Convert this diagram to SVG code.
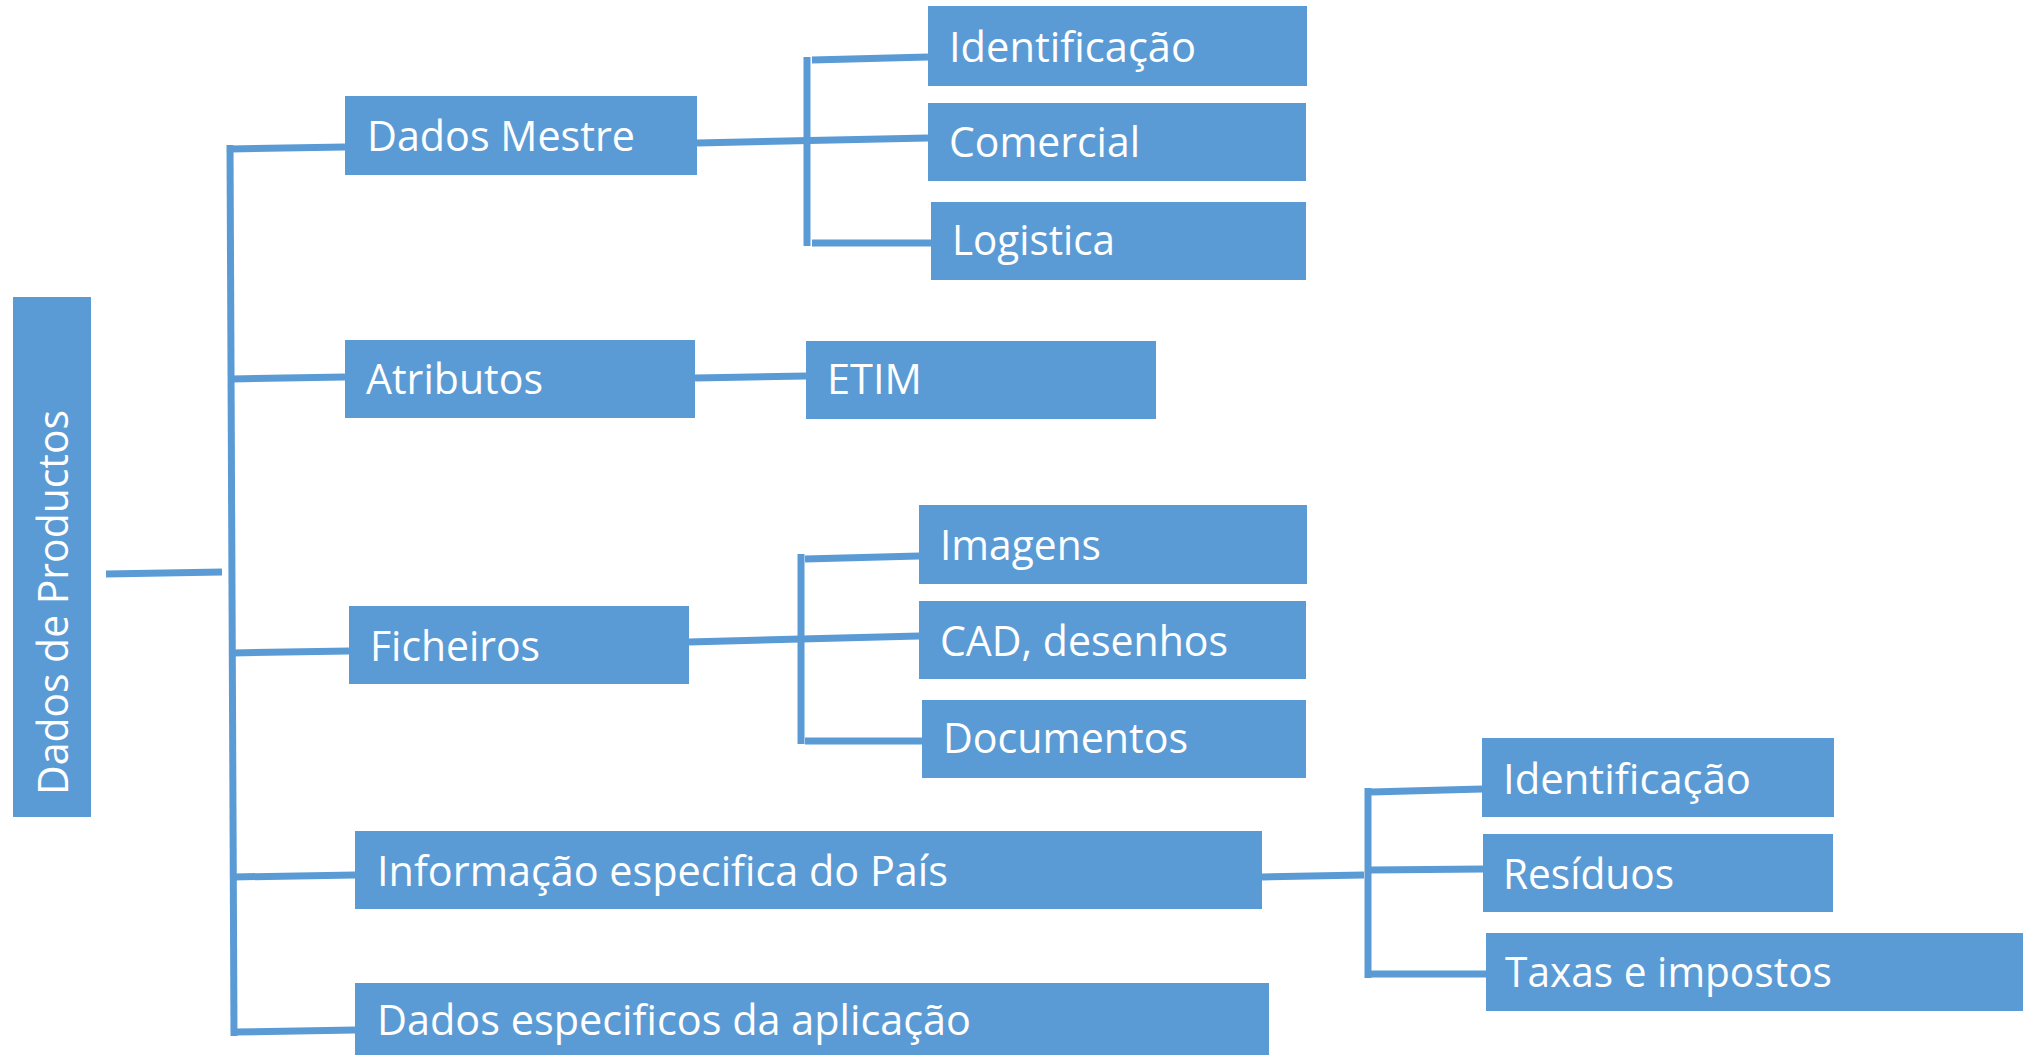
<svg xmlns="http://www.w3.org/2000/svg" width="2023" height="1055" viewBox="0 0 2023 1055">
<style>
.box{fill:#5B9BD5}
.lbl{fill:#ffffff;font-family:"Open Sans","Liberation Sans",sans-serif;font-size:42px}
.con line{stroke:#5B9BD5;stroke-width:7;fill:none}
</style>
<rect width="2023" height="1055" fill="#ffffff"/>
<g id="connectors" class="con">
<line x1="106" y1="574" x2="222" y2="572"/>
<line x1="230" y1="145" x2="234" y2="1036"/>
<line x1="230" y1="149" x2="345" y2="147"/>
<line x1="231" y1="379" x2="345" y2="377"/>
<line x1="232" y1="653" x2="349" y2="651"/>
<line x1="233" y1="877" x2="355" y2="875"/>
<line x1="234" y1="1032" x2="355" y2="1030"/>
<line x1="697" y1="143" x2="928" y2="138"/>
<line x1="807" y1="57" x2="807" y2="246"/>
<line x1="812" y1="60" x2="928" y2="57"/>
<line x1="812" y1="243" x2="931" y2="243"/>
<line x1="695" y1="378" x2="806" y2="376"/>
<line x1="689" y1="642" x2="919" y2="636"/>
<line x1="801" y1="554" x2="801" y2="744"/>
<line x1="805" y1="559" x2="919" y2="556"/>
<line x1="805" y1="741" x2="922" y2="741"/>
<line x1="1262" y1="877" x2="1364" y2="875"/>
<line x1="1368" y1="788" x2="1368" y2="978"/>
<line x1="1371" y1="792" x2="1482" y2="789"/>
<line x1="1371" y1="870" x2="1483" y2="869"/>
<line x1="1371" y1="974" x2="1486" y2="974"/>
</g>
<g id="root">
<rect class="box" x="13" y="297" width="78" height="520"/>
<text class="lbl" transform="translate(68,795) rotate(-90)" textLength="385" lengthAdjust="spacingAndGlyphs">Dados de Productos</text>
</g>
<g id="dados-mestre">
<rect class="box" x="345" y="96" width="352" height="79"/>
<text class="lbl" x="367" y="151" textLength="268" lengthAdjust="spacingAndGlyphs">Dados Mestre</text>
</g>
<g id="atributos">
<rect class="box" x="345" y="340" width="350" height="78"/>
<text class="lbl" x="366" y="394" textLength="177" lengthAdjust="spacingAndGlyphs">Atributos</text>
</g>
<g id="ficheiros">
<rect class="box" x="349" y="606" width="340" height="78"/>
<text class="lbl" x="370" y="661" textLength="170" lengthAdjust="spacingAndGlyphs">Ficheiros</text>
</g>
<g id="informacao">
<rect class="box" x="355" y="831" width="907" height="78"/>
<text class="lbl" x="377" y="886" textLength="571" lengthAdjust="spacingAndGlyphs">Informação especifica do País</text>
</g>
<g id="dados-especificos">
<rect class="box" x="355" y="983" width="914" height="80"/>
<text class="lbl" x="377" y="1035" textLength="594" lengthAdjust="spacingAndGlyphs">Dados especificos da aplicação</text>
</g>
<g id="identificacao-1">
<rect class="box" x="928" y="6" width="379" height="80"/>
<text class="lbl" x="949" y="62" textLength="247" lengthAdjust="spacingAndGlyphs">Identificação</text>
</g>
<g id="comercial">
<rect class="box" x="928" y="103" width="378" height="78"/>
<text class="lbl" x="949" y="157" textLength="191" lengthAdjust="spacingAndGlyphs">Comercial</text>
</g>
<g id="logistica">
<rect class="box" x="931" y="202" width="375" height="78"/>
<text class="lbl" x="952" y="255" textLength="163" lengthAdjust="spacingAndGlyphs">Logistica</text>
</g>
<g id="etim">
<rect class="box" x="806" y="341" width="350" height="78"/>
<text class="lbl" x="827" y="394" textLength="95" lengthAdjust="spacingAndGlyphs">ETIM</text>
</g>
<g id="imagens">
<rect class="box" x="919" y="505" width="388" height="79"/>
<text class="lbl" x="940" y="560" textLength="161" lengthAdjust="spacingAndGlyphs">Imagens</text>
</g>
<g id="cad">
<rect class="box" x="919" y="601" width="387" height="78"/>
<text class="lbl" x="940" y="656" textLength="288" lengthAdjust="spacingAndGlyphs">CAD, desenhos</text>
</g>
<g id="documentos">
<rect class="box" x="922" y="700" width="384" height="78"/>
<text class="lbl" x="943" y="753" textLength="245" lengthAdjust="spacingAndGlyphs">Documentos</text>
</g>
<g id="identificacao-2">
<rect class="box" x="1482" y="738" width="352" height="79"/>
<text class="lbl" x="1503" y="794" textLength="248" lengthAdjust="spacingAndGlyphs">Identificação</text>
</g>
<g id="residuos">
<rect class="box" x="1483" y="834" width="350" height="78"/>
<text class="lbl" x="1503" y="889" textLength="171" lengthAdjust="spacingAndGlyphs">Resíduos</text>
</g>
<g id="taxas">
<rect class="box" x="1486" y="933" width="537" height="78"/>
<text class="lbl" x="1505" y="987" textLength="327" lengthAdjust="spacingAndGlyphs">Taxas e impostos</text>
</g>
</svg>
